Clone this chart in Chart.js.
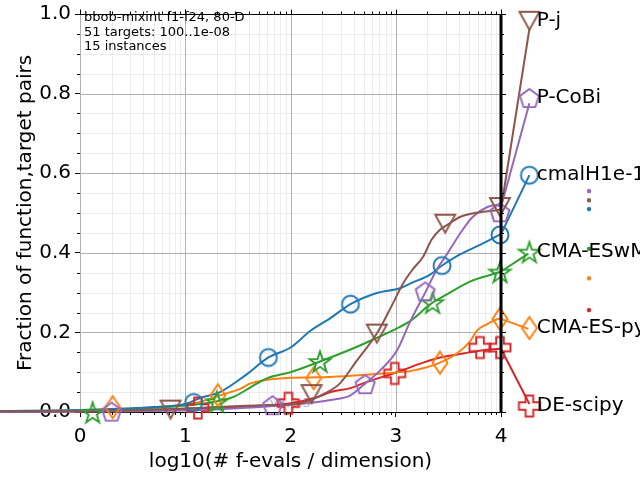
<!DOCTYPE html>
<html><head><meta charset="utf-8">
<script src="https://cdn.jsdelivr.net/npm/chart.js@4.4.1/dist/chart.umd.min.js"></script>
<style>html,body{margin:0;padding:0;background:#fff}</style>
</head><body>
<canvas id="c" width="640" height="480"></canvas>
<script>
// ---------- data ----------
const algNames = ['P-j','P-CoBi','cmalH1e-1','CMA-ESwM','CMA-ES-py','DE-scipy'];
const algColors = ['#8c564b','#9467bd','#1f77b4','#2ca02c','#ff7f0e','#d62728'];
const xTickValues = [0,1,2,3,4];
const yTickValues = [0,0.2,0.4,0.6,0.8,1.0];

// ECDF curves (last point = end of the connector to the label)
const pjX = [-0.76,0,0.86,1.71,2.09,2.35,2.47,2.63,2.82,2.96,3.07,3.16,3.26,3.34,3.42,3.49,3.61,3.80,3.96,4.0,4.27];
const pjY = [0.001,0.002,0.007,0.017,0.022,0.05,0.072,0.129,0.197,0.266,0.323,0.358,0.39,0.433,0.458,0.47,0.49,0.502,0.507,0.51,0.963];
const pcX = [-0.76,0,1.14,1.83,2.09,2.38,2.57,2.69,2.85,3.01,3.14,3.28,3.39,3.49,3.61,3.73,3.87,3.96,4.0,4.27];
const pcY = [0,0.001,0.005,0.015,0.02,0.03,0.042,0.067,0.104,0.154,0.229,0.3,0.358,0.398,0.448,0.49,0.515,0.52,0.515,0.776];
const ciX = [-0.76,0,0.665,1.0,1.14,1.33,1.57,1.79,2.0,2.19,2.38,2.57,2.82,3.04,3.14,3.33,3.44,3.61,3.80,3.97,4.0,4.27];
const ciY = [0.0025,0.005,0.012,0.02,0.035,0.05,0.092,0.137,0.162,0.204,0.236,0.271,0.299,0.311,0.323,0.346,0.368,0.396,0.42,0.443,0.447,0.595];
const ewX = [-0.76,0,0.67,1.14,1.45,1.62,1.78,2.0,2.28,2.57,2.76,3.04,3.14,3.33,3.49,3.71,3.92,4.0,4.26];
const ewY = [0,0.003,0.01,0.02,0.037,0.062,0.085,0.1,0.127,0.157,0.179,0.214,0.229,0.271,0.296,0.328,0.346,0.353,0.398];
const cpX = [-0.76,0,0.95,1.14,1.33,1.52,1.62,1.93,2.25,2.88,3.16,3.42,3.58,3.71,3.77,3.87,3.99,4.0,4.26];
const cpY = [0.002,0.005,0.017,0.025,0.042,0.058,0.072,0.085,0.087,0.097,0.104,0.124,0.147,0.179,0.204,0.221,0.234,0.234,0.209];
const deX = [-0.76,0,1.14,2.0,2.25,2.38,2.57,2.69,3.01,3.26,3.42,3.64,3.80,3.99,4.0,4.27];
const deY = [0,0.001,0.01,0.022,0.037,0.05,0.06,0.072,0.1,0.124,0.137,0.147,0.154,0.159,0.159,0.02];

// markers
const pjMX = [0.86,2.20,2.82,3.47,3.99,4.27];  const pjMY = [0.006,0.045,0.197,0.473,0.515,0.983];
const pcMX = [0.30,1.83,2.71,3.28,3.99,4.27];  const pcMY = [0.001,0.017,0.07,0.303,0.502,0.789];
const ciMX = [1.08,1.79,2.57,3.44,3.99,4.27];  const ciMY = [0.024,0.137,0.271,0.368,0.445,0.595];
const ewMX = [0.12,1.30,2.28,3.35,3.99,4.27];  const ewMY = [0.0,0.027,0.128,0.276,0.353,0.403];
const cpMX = [0.31,1.31,2.22,3.42,3.99,4.27];  const cpMY = [0.012,0.042,0.085,0.124,0.234,0.211];
const deMX = [1.12,1.98,2.99,3.80,3.99,4.27];  const deMY = [0.01,0.022,0.097,0.162,0.162,0.015];

// label positions and small dots at the right
const labelX = 4.34;
const labelY = [0.983,0.789,0.595,0.403,0.211,0.015];
const dotX = 4.836;
const dotY = [0.532,0.555,0.51,0.41,0.336,0.256];

const infoLines = ['bbob-mixint f1-f24, 80-D','51 targets: 100..1e-08','15 instances'];

// ---------- helpers ----------
const FONT = 'DejaVu Sans';
function pts(xs, ys){ return xs.map((v,i)=>({x:v,y:ys[i]})); }
function marker(shape, color){
  const S=30, c=document.createElement('canvas'); c.width=S; c.height=S;
  const g=c.getContext('2d'); g.strokeStyle=color; g.fillStyle=color; g.lineWidth=1.9; g.lineJoin='miter';
  const cx=S/2, cy=S/2;
  g.beginPath();
  if(shape==='circle'){ g.arc(cx,cy,8.5,0,2*Math.PI); }
  else if(shape==='tri'){ g.moveTo(cx,cy+9); g.lineTo(cx-10,cy-9); g.lineTo(cx+10,cy-9); g.closePath(); }
  else if(shape==='pent'){ for(let i=0;i<5;i++){const a=(-90+72*i)*Math.PI/180; const px=cx+10*Math.cos(a), py=cy+1+10*Math.sin(a); i?g.lineTo(px,py):g.moveTo(px,py);} g.closePath(); }
  else if(shape==='star'){ for(let i=0;i<10;i++){const r=i%2?4.3:11; const a=(-90+36*i)*Math.PI/180; const px=cx+r*Math.cos(a), py=cy+1.5+r*Math.sin(a); i?g.lineTo(px,py):g.moveTo(px,py);} g.closePath(); }
  else if(shape==='diam'){ g.moveTo(cx,cy-11); g.lineTo(cx+7.5,cy); g.lineTo(cx,cy+11); g.lineTo(cx-7.5,cy); g.closePath(); }
  else if(shape==='plus'){ const A=10.5,B=3.8; const p=[[-B,-A],[B,-A],[B,-B],[A,-B],[A,B],[B,B],[B,A],[-B,A],[-B,B],[-A,B],[-A,-B],[-B,-B]]; p.forEach((q,i)=>i?g.lineTo(cx+q[0],cy+q[1]):g.moveTo(cx+q[0],cy+q[1])); g.closePath(); }
  else if(shape==='dot'){ g.arc(cx,cy,2.2,0,2*Math.PI); g.fill(); return c; }
  g.stroke();
  return c;
}

const lineSets = [
  [pjX,pjY,pjMX,pjMY,'tri'],
  [pcX,pcY,pcMX,pcMY,'pent'],
  [ciX,ciY,ciMX,ciMY,'circle'],
  [ewX,ewY,ewMX,ewMY,'star'],
  [cpX,cpY,cpMX,cpMY,'diam'],
  [deX,deY,deMX,deMY,'plus']
];
const datasets = [];
lineSets.forEach((s,i)=>{
  datasets.push({data:pts(s[0].slice(0,-1),s[1].slice(0,-1)), borderColor:algColors[i], borderWidth:2, pointRadius:0,
    cubicInterpolationMode:'monotone', fill:false, clip:false, order:i+1});
  datasets.push({data:pts(s[0].slice(-2),s[1].slice(-2)), borderColor:algColors[i], borderWidth:2, pointRadius:0,
    tension:0, fill:false, clip:false, order:i+1});
  datasets.push({data:pts(s[2],s[3]), showLine:false, pointStyle:marker(s[4],algColors[i]),
    pointRadius:500, hoverRadius:500, borderWidth:0, clip:false, order:0});
  datasets.push({data:[{x:dotX,y:dotY[i]}], showLine:false, pointStyle:marker('dot',algColors[i]),
    pointRadius:500, hoverRadius:500, borderWidth:0, clip:false, order:0});
});

function log10(v){ return Math.log(v)/Math.LN10; }
const decor = {
  id:'decor',
  beforeDatasetsDraw(chart){
    const {ctx, chartArea:a, scales:{x,y}} = chart;
    ctx.save();
    ctx.lineWidth=1;
    const vline=(p)=>{ctx.beginPath();ctx.moveTo(p,a.top);ctx.lineTo(p,a.bottom);ctx.stroke();};
    const hline=(p)=>{ctx.beginPath();ctx.moveTo(a.left,p);ctx.lineTo(a.right,p);ctx.stroke();};
    ctx.strokeStyle='#ececec';
    for(let d=0; d<4; d++) for(let k=2;k<10;k++) vline(Math.round(x.getPixelForValue(d+log10(k)))+0.5);
    for(let v=0.05; v<1; v+=0.05){ if(Math.abs(v/0.2-Math.round(v/0.2))>0.01) hline(Math.round(y.getPixelForValue(v))+0.5); }
    ctx.strokeStyle='#b0b0b0';
    xTickValues.forEach(v=>vline(Math.round(x.getPixelForValue(v))+0.5));
    yTickValues.forEach(v=>{ if(v>0) hline(Math.round(y.getPixelForValue(v))+0.5); });
    ctx.fillStyle='rgba(128,128,128,0.6)'; ctx.font='13px '+FONT; ctx.textBaseline='middle';
    ctx.fillText('v2.6.3', 270, 404);
    ctx.restore();
  },
  afterDatasetsDraw(chart){
    const {ctx, chartArea:a, scales:{x,y}} = chart;
    ctx.save();
    ctx.strokeStyle='#000'; ctx.lineWidth=1;
    const seg=(x1,y1,x2,y2)=>{ctx.beginPath();ctx.moveTo(x1,y1);ctx.lineTo(x2,y2);ctx.stroke();};
    const top=Math.round(a.top)+0.5;
    seg(a.left,top,a.right,top);
    xTickValues.forEach(v=>{const p=Math.round(x.getPixelForValue(v))+0.5; seg(p,top,p,top-5);});
    for(let d=0; d<4; d++) for(let k=2;k<10;k++){const p=Math.round(x.getPixelForValue(d+log10(k)))+0.5; seg(p,top,p,top-3); seg(p,a.bottom,p,a.bottom+3);}
    for(let v=0; v<=1.0001; v+=0.05){
      const p=Math.round(y.getPixelForValue(v))+0.5;
      const major = Math.abs(v/0.2-Math.round(v/0.2))<0.01;
      if(!major) seg(a.left,p,a.left-3,p);
      seg(a.right,p,a.right+(major?5:3),p);
    }
    ctx.lineWidth=3;
    const xr=x.getPixelForValue(4);
    seg(xr,a.top,xr,a.bottom);
    ctx.restore();
  },
  afterDraw(chart){
    const {ctx, scales:{x,y}} = chart;
    ctx.save();
    ctx.fillStyle='#000';
    ctx.font='20px '+FONT; ctx.textBaseline='middle'; ctx.textAlign='left';
    algNames.forEach((n,i)=>ctx.fillText(n, x.getPixelForValue(labelX), y.getPixelForValue(labelY[i])));
    ctx.font='13px '+FONT; ctx.textBaseline='alphabetic';
    const bl=[21,35.5,50];
    infoLines.forEach((t,i)=>ctx.fillText(t, 84, bl[i]));
    ctx.restore();
  }
};

new Chart(document.getElementById('c'), {
  type:'line',
  data:{datasets},
  options:{
    responsive:false, animation:false, devicePixelRatio:1, events:[],
    layout:{autoPadding:false, padding:{top:10,right:139,left:0,bottom:0}},
    plugins:{legend:{display:false}, tooltip:{enabled:false}},
    scales:{
      x:{type:'linear',
        afterDataLimits:s=>{s.min=xTickValues[0]; s.max=xTickValues[xTickValues.length-1];},
        afterBuildTicks:s=>{s.ticks=xTickValues.map(v=>({value:v}));},
        grid:{display:true, drawOnChartArea:false, drawTicks:true, tickLength:5, color:'#000', lineWidth:1},
        border:{display:true, color:'#000', width:1},
        ticks:{font:{family:FONT,size:20}, color:'#000', padding:8, maxRotation:0, callback:v=>String(v)},
        title:{display:true, text:'log10(# f-evals / dimension)', font:{family:FONT,size:20}, color:'#000', padding:{top:0,bottom:6}},
        afterFit:s=>{s.height=68;}
      },
      y:{type:'linear', min:0, max:1,
        afterBuildTicks:s=>{s.ticks=yTickValues.map(v=>({value:v}));},
        grid:{display:true, drawOnChartArea:false, drawTicks:true, tickLength:5, color:'#000', lineWidth:1},
        border:{display:false},
        ticks:{font:{family:FONT,size:20,lineHeight:1}, color:'#000', padding:4, callback:v=>Number(v).toFixed(1)},
        title:{display:true, text:'Fraction of function,target pairs', font:{family:FONT,size:20}, color:'#000', padding:{top:14,bottom:0}},
        afterFit:s=>{s.width=80;}
      }
    }
  },
  plugins:[decor]
});
</script>
</body></html>
